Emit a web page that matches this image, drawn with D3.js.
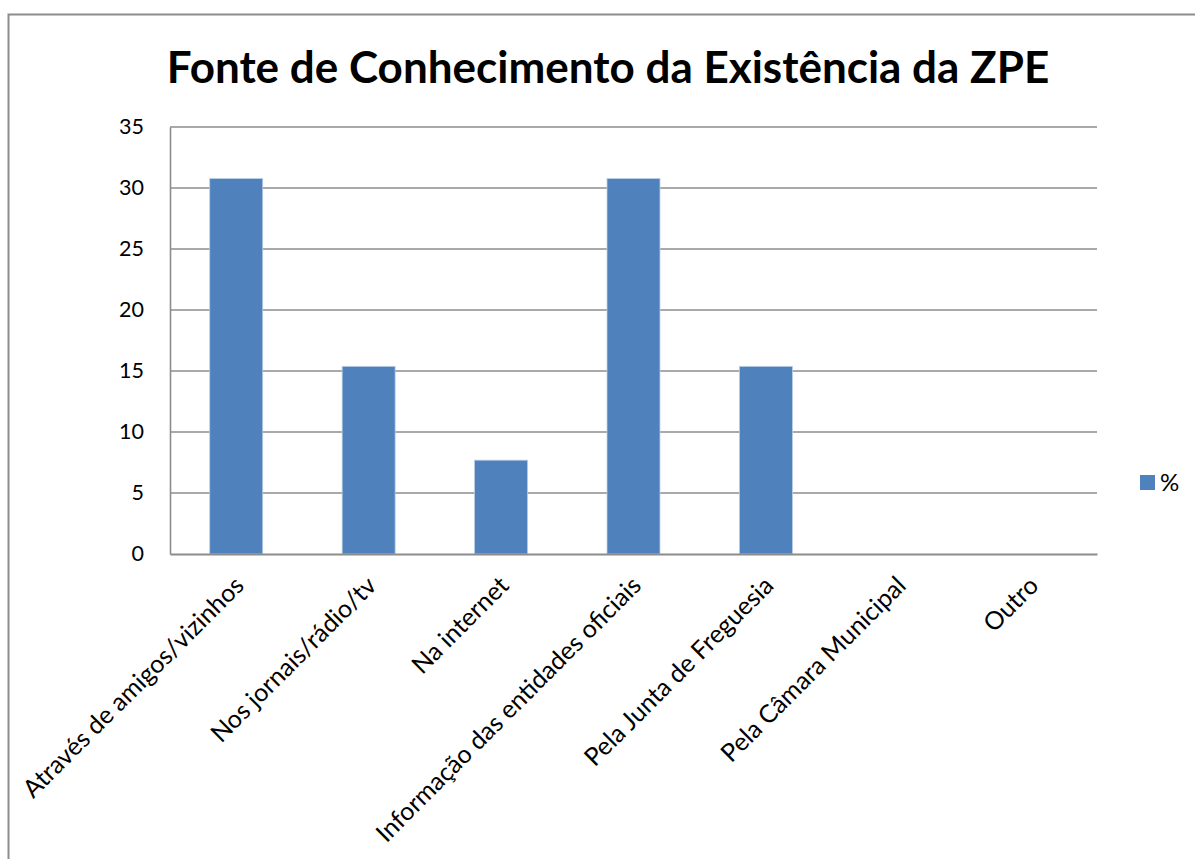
<!DOCTYPE html>
<html>
<head>
<meta charset="utf-8">
<script src="https://cdn.jsdelivr.net/npm/d3@7"></script>
<style>
  html, body { margin: 0; padding: 0; background: #fff; }
  svg { display: block; }
  text { font-family: Lato, "Open Sans", sans-serif; fill: #000; }
</style>
</head>
<body>
<svg id="chart" width="1195" height="859"></svg>
<script>
// Source of knowledge about the ZPE (% of respondents)
const categories = [
  "Através de amigos/vizinhos",
  "Nos jornais/rádio/tv",
  "Na internet",
  "Informação das entidades oficiais",
  "Pela Junta de Freguesia",
  "Pela Câmara Municipal",
  "Outro"
];
const values = [30.77, 15.38, 7.69, 30.77, 15.38, 0, 0];
const yTicks = [0, 5, 10, 15, 20, 25, 30, 35];
const seriesName = "%";
const title = "Fonte de Conhecimento da Existência da ZPE";

const svg = d3.select("#chart");
const W = 1195, H = 859;
const plot = { left: 170, right: 1097, top: 127, bottom: 554 };

// outer chart frame
svg.append("rect")
  .attr("x", 8.5).attr("y", 14.5)
  .attr("width", W + 20).attr("height", H + 20)
  .attr("fill", "none").attr("stroke", "#8c8c8c").attr("stroke-width", 2);

// title
svg.append("text")
  .attr("x", 608).attr("y", 83)
  .attr("text-anchor", "middle")
  .style("font-weight", "bold").style("font-size", "44px")
  .text(title);

const x = d3.scaleBand()
  .domain(categories)
  .range([plot.left, plot.right])
  .paddingInner(0.6).paddingOuter(0.3);

const y = d3.scaleLinear()
  .domain([0, 35])
  .range([plot.bottom, plot.top]);

// horizontal gridlines
svg.append("g")
  .selectAll("line")
  .data(yTicks.filter(t => t > 0))
  .join("line")
  .attr("x1", plot.left).attr("x2", plot.right)
  .attr("y1", d => y(d)).attr("y2", d => y(d))
  .attr("stroke", "#8c8c8c").attr("stroke-width", 1.6);

// y axis
const yAxis = svg.append("g")
  .attr("transform", `translate(${plot.left},0)`)
  .call(d3.axisLeft(y).tickValues(yTicks).tickSize(0).tickPadding(26));
yAxis.select(".domain").attr("stroke", "#8c8c8c").attr("stroke-width", 1.6);
yAxis.selectAll("text")
  .style("font-size", "21.5px").style("font-family", "Lato, sans-serif")
  .attr("fill", "#000");

// bars
svg.append("g")
  .selectAll("rect")
  .data(categories.map((c, i) => ({ c, v: values[i] })))
  .join("rect")
  .attr("x", d => x(d.c))
  .attr("y", d => y(d.v))
  .attr("width", x.bandwidth())
  .attr("height", d => y(0) - y(d.v))
  .attr("fill", "#4f81bd")
  .attr("stroke", "#b9cde5").attr("stroke-width", d => d.v > 0 ? 0.8 : 0);

// x axis with rotated category labels
const xAxis = svg.append("g")
  .attr("transform", `translate(0,${plot.bottom})`)
  .call(d3.axisBottom(x).tickSize(0).tickPadding(0));
xAxis.select(".domain").attr("stroke", "#8c8c8c").attr("stroke-width", 2);
xAxis.selectAll(".tick text")
  .style("font-size", "25px").style("font-family", "Lato, sans-serif")
  .attr("fill", "#000")
  .attr("text-anchor", "end")
  .attr("dy", "0.35em")
  .attr("transform", "translate(3,27) rotate(-45)");

// legend
const legend = svg.append("g");
legend.append("rect")
  .attr("x", 1140).attr("y", 475)
  .attr("width", 15).attr("height", 15)
  .attr("fill", "#4f81bd");
legend.append("text")
  .attr("x", 1160).attr("y", 483)
  .attr("dy", "0.35em")
  .style("font-size", "24px")
  .text(seriesName);
</script>
</body>
</html>
